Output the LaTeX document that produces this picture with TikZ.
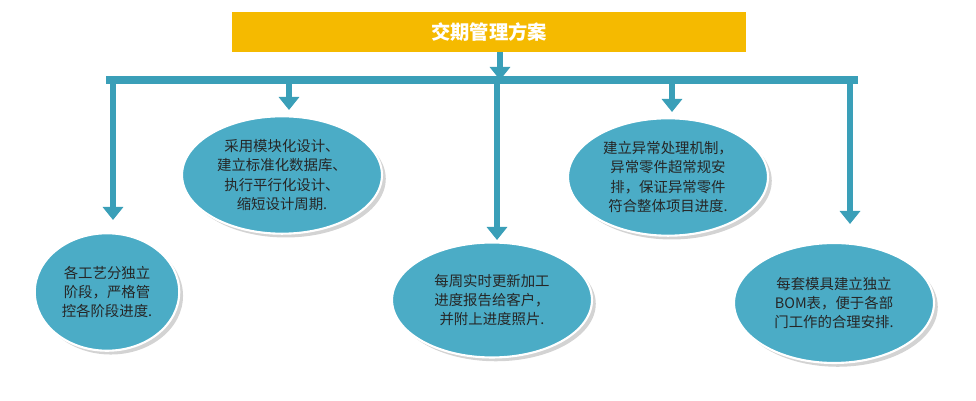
\documentclass[tikz,border=0pt]{standalone}
\usepackage{fontspec}
\newfontfamily\cjk{Noto Sans CJK SC}
\usetikzlibrary{arrows.meta,shadows,shapes.geometric}
\definecolor{pipe}{HTML}{3A9FB8}
\definecolor{bub}{HTML}{4BACC6}
\definecolor{titlebg}{HTML}{F5BA00}
\tikzset{
  pipeline/.style={draw=pipe,line width=1.6mm},
  branch/.style={draw=pipe,line width=1.3mm,-{Triangle[length=2.6mm,width=4mm]}},
  bubble/.style={ellipse,draw=white,line width=1.2pt,fill=bub,drop shadow={opacity=0.35},align=center,font=\cjk\fontsize{8.2}{11}\selectfont,text=black!85},
}
\begin{document}
\begin{tikzpicture}[x=0.02cm,y=-0.02cm]
\useasboundingbox (0,0) rectangle (976,401);
\node[fill=titlebg,minimum width=10.28cm,minimum height=0.8cm,text=white,font=\cjk\bfseries\fontsize{11}{13}\selectfont] (title) at (489,32) {交期管理方案};
\coordinate (hl) at (106,80);
\coordinate (hr) at (858,80);
\coordinate (hc) at (500,80);
\coordinate (b1) at (113,80);
\coordinate (b2) at (289,80);
\coordinate (b3) at (497,80);
\coordinate (b4) at (672,80);
\coordinate (b5) at (850,80);
\node[bubble,minimum width=2.75cm,minimum height=2.35cm] (e1) at (107,292) {各工艺分独立\\阶段，严格管\\控各阶段进度.};
\node[bubble,minimum width=4.0cm,minimum height=2.2cm] (e2) at (282,175) {采用模块化设计、\\建立标准化数据库、\\执行平行化设计、\\缩短设计周期.};
\node[bubble,minimum width=4.0cm,minimum height=2.3cm] (e3) at (492,300) {每周实时更新加工\\进度报告给客户，\\并附上进度照片.};
\node[bubble,minimum width=4.0cm,minimum height=2.3cm] (e4) at (668,177) {建立异常处理机制，\\异常零件超常规安\\排，保证异常零件\\符合整体项目进度.};
\node[bubble,minimum width=4.0cm,minimum height=2.4cm] (e5) at (834,303) {每套模具建立独立\\BOM表，便于各部\\门工作的合理安排.};
\draw[branch] (title.south -| hc) -- (hc);
\draw[pipeline] (hl) -- (hr);
\draw[branch] (b1) -- (113,220);
\draw[branch] (b2) -- (289,110);
\draw[branch] (b3) -- (497,240);
\draw[branch] (b4) -- (672,112);
\draw[branch] (b5) -- (850,224);
\end{tikzpicture}
\end{document}
